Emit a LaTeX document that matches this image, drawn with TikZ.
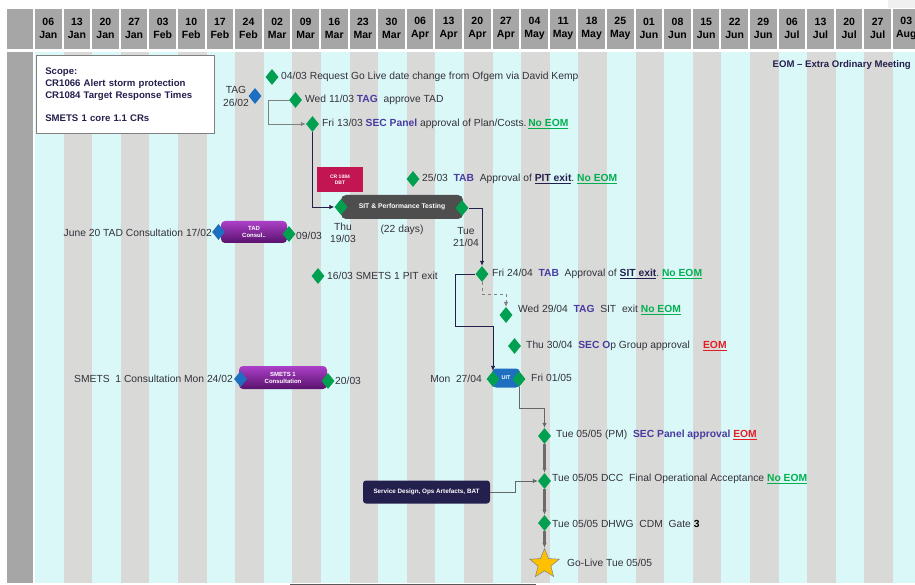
\documentclass[tikz,border=0pt]{standalone}
\usepackage{fontspec}
\setmainfont{Liberation Sans}
\usepackage{xcolor}
\usetikzlibrary{arrows.meta}
\usetikzlibrary{shapes.geometric}

\definecolor{colcyan}{RGB}{219,248,248}
\definecolor{colgrey}{RGB}{217,217,216}
\definecolor{hdrgrey}{RGB}{166,166,166}
\definecolor{msgreen}{RGB}{0,160,80}
\definecolor{tagblue}{RGB}{31,111,192}
\definecolor{navy}{RGB}{36,32,78}
\definecolor{indigo}{RGB}{72,60,160}
\definecolor{eomgreen}{RGB}{0,176,80}
\definecolor{eomred}{RGB}{226,30,36}
\definecolor{txtgrey}{RGB}{50,50,58}
\definecolor{crimson}{RGB}{194,22,82}
\definecolor{violettop}{RGB}{172,64,200}
\definecolor{violetbot}{RGB}{88,18,108}
\definecolor{sitgrey}{RGB}{78,78,78}
\definecolor{starfill}{RGB}{255,192,0}

\newcommand{\who}[1]{\textbf{\textcolor{indigo}{#1}}}
\newcommand{\gatelink}[1]{\textbf{\textcolor{navy}{\underline{#1}}}}
\newcommand{\msnoeom}{\textbf{\textcolor{eomgreen}{\underline{No EOM}}}}
\newcommand{\mseom}{\textbf{\textcolor{eomred}{\underline{EOM}}}}

\begin{document}
\begin{tikzpicture}[x=1pt, y=-1pt,
    >={Latex[width=4.5pt,length=5pt]},
    font=\fontsize{10.3}{12}\selectfont, text=txtgrey,
    hdr/.style = {align=center, text=black, inner sep=0pt,
                  font=\fontsize{10.5}{13}\selectfont\bfseries},
    ms/.style = {diamond, fill=msgreen, minimum width=13pt,
                 minimum height=16pt, inner sep=0pt},
    tagms/.style = {ms, fill=tagblue},
    lbl/.style = {anchor=west, inner sep=0pt},
    bar/.style = {rounded corners=4pt, text=white, align=center,
                  inner sep=0pt, font=\fontsize{6}{7}\selectfont\bfseries},
    purplebar/.style = {bar, top color=violettop, bottom color=violetbot},
    link/.style = {draw=navy, line width=0.9pt},
    greyline/.style = {draw=gray, line width=0.9pt},
    flow/.style = {draw=gray!85!black, line width=2.2pt}]

  \useasboundingbox (0,0) rectangle (915,585);
  \clip (0,0) rectangle (915,585);
  \fill[white] (0,0) rectangle (915,585);
  \fill[gray!12] (888,0) rectangle (915,8);

  % week grid
  \fill[hdrgrey] (7,9) rectangle (33,49);
  \fill[hdrgrey] (7,52) rectangle (33,583);
  \foreach \d/\m [count=\i from 0] in {06/Jan,13/Jan,20/Jan,27/Jan,03/Feb,
      10/Feb,17/Feb,24/Feb,02/Mar,09/Mar,16/Mar,23/Mar,30/Mar,06/Apr,13/Apr,
      20/Apr,27/Apr,04/May,11/May,18/May,25/May,01/Jun,08/Jun,15/Jun,22/Jun,
      29/Jun,06/Jul,13/Jul,20/Jul,27/Jul,03/Aug} {
    \pgfmathsetmacro\xl{35+28.6*\i}
    \ifodd\i \def\colfill{colgrey}\else \def\colfill{colcyan}\fi
    \fill[\colfill] (\xl,52) rectangle ++(28.6,531);
    \fill[hdrgrey] (\xl,9) rectangle ++(26.6,40);
    \node (hd\i) [hdr] at (\xl+13.3,28) {\d\\\m};
  }

  % scope and legend
  \node (scope) [draw=gray, fill=white, line width=0.6pt, anchor=north west,
                 minimum width=178pt, minimum height=78pt, text width=160pt,
                 inner xsep=9pt, align=left, text=navy,
                 font=\fontsize{9.6}{12}\selectfont\bfseries] at (36,55)
    {Scope:\\CR1066 Alert storm protection\\CR1084 Target Response Times\\[11pt]SMETS 1 core 1.1 CRs};
  \node (legend) [anchor=east, text=navy, inner sep=0pt,
                  font=\fontsize{9.6}{11}\selectfont\bfseries] at (911,65)
    {EOM -- Extra Ordinary Meeting};

  % milestones before testing
  \node (req) [ms] at (272,77) {};
  \node (reqlbl) [lbl] at (281,77) {04/03 Request Go Live date change from Ofgem via David Kemp};
  \node (tag) [tagms] at (255,96) {};
  \node (taglbl) [align=center, inner sep=0pt, font=\fontsize{10.3}{13}\selectfont] at (236,96) {TAG\\26/02};
  \node (wed) [ms] at (295.5,100) {};
  \node (wedlbl) [lbl] at (305,100) {Wed 11/03 \who{TAG}~ approve TAD};
  \node (fri) [ms] at (312.5,124) {};
  \node (frilbl) [lbl] at (322,124) {Fri 13/03 \who{SEC Panel} approval of Plan/Costs.\,\msnoeom};
  \coordinate (wedturn) at (268,100);
  \draw[greyline,->] (wed.west) -- (wedturn) |- (fri.west);

  % consultations
  \node (junelbl) [anchor=east, inner sep=0pt] at (212,233) {June 20 TAD Consultation 17/02};
  \node (tad) [purplebar, minimum width=66pt, minimum height=22pt] at (254,232) {TAD\\Consul..};
  \node (tadl) [tagms] at (218.5,232) {};
  \node (tadr) [ms] at (289,234) {};
  \node (tadrlbl) [lbl] at (296,236) {09/03};

  \node (smlbl) [anchor=east, inner sep=0pt] at (233,379) {SMETS~ 1 Consultation Mon 24/02};
  \node (smets) [purplebar, minimum width=88pt, minimum height=23pt] at (283,377.5) {SMETS 1\\Consultation};
  \node (smetsl) [tagms] at (240.5,379) {};
  \node (smetsr) [ms] at (328,381) {};
  \node (smetsrlbl) [lbl] at (335,381) {20/03};

  \node (pitsm) [ms] at (318,276) {};
  \node (pitsmlbl) [lbl] at (327,276) {16/03 SMETS 1 PIT exit};

  % SIT
  \node (dbt) [fill=crimson, text=white, align=center, inner sep=0pt,
               minimum width=46pt, minimum height=25pt,
               font=\fontsize{5}{6}\selectfont\bfseries] at (340,179.5) {CR 1084\\DBT};
  \node (sit) [bar, fill=sitgrey, rounded corners=5pt, minimum width=122pt,
               minimum height=24pt, font=\fontsize{6.8}{8}\selectfont\bfseries]
    at (402,207) {SIT \& Performance Testing};
  \node (sitl) [ms] at (341,207) {};
  \node (sitr) [ms] at (462,208) {};
  \node (sitllbl) [align=center, inner sep=0pt] at (343,233) {Thu\\19/03};
  \node (sitdays) [inner sep=0pt] at (402,230) {(22 days)};
  \node (sitrlbl) [align=center, inner sep=0pt] at (466,237) {Tue\\21/04};
  \draw[link,->] (fri.south) |- (sitl.west);

  \node (pit) [ms] at (413,179) {};
  \node (pitlbl) [lbl] at (422,179) {25/03~ \who{TAB}~ Approval of \gatelink{PIT exit}.\ \msnoeom};

  % exits and approvals
  \node (f24) [ms] at (482,274) {};
  \node (f24lbl) [lbl] at (492,274) {Fri 24/04~ \who{TAB}~ Approval of \gatelink{SIT exit}.\ \msnoeom};
  \draw[link,->] (sitr.east) -| (f24.north);

  \node (w29) [ms] at (506,315) {};
  \node (w29lbl) [lbl] at (518,310) {Wed 29/04~ \who{TAG}~ SIT~ exit \msnoeom};
  \coordinate (dashturn) at (482,294);
  \draw[greyline, line width=0.7pt, dashed, ->] (f24.south) -- (dashturn) -| (w29.north);

  \node (t30) [ms] at (514.5,346) {};
  \node (t30lbl) [lbl] at (526,346) {Thu 30/04~ \who{SEC O}p Group approval \quad\mseom};

  % UIT
  \node (uit) [bar, fill=tagblue, minimum width=28pt, minimum height=19pt,
               font=\fontsize{5.5}{6}\selectfont\bfseries] at (506,378) {UIT};
  \node (uitl) [ms] at (493,379) {};
  \node (uitr) [ms] at (519,379) {};
  \node (uitllbl) [anchor=east, inner sep=0pt] at (482,379) {Mon~ 27/04};
  \node (uitrlbl) [lbl] at (531,378) {Fri 01/05};
  \coordinate (loopa) at (455,326);
  \draw[link,->] (f24.west) -| (loopa) -| (uitl.north);

  % go-live chain
  \node (pm) [ms] at (544.5,436) {};
  \node (pmlbl) [lbl] at (556,435) {Tue 05/05 (PM)~ \who{SEC Panel approval} \mseom};
  \node (dcc) [ms] at (544.5,481) {};
  \node (dcclbl) [lbl] at (552,479) {Tue 05/05 DCC~ Final Operational Acceptance \msnoeom};
  \node (dhwg) [ms] at (544.5,523) {};
  \node (dhwglbl) [lbl] at (552,524) {Tue 05/05 DHWG~ CDM~ Gate \textbf{\textcolor{black}{3}}};
  \node (golive) [star, star points=5, star point ratio=2.3, fill=starfill,
                  draw=gray, line width=0.5pt, minimum size=31pt, inner sep=0pt] at (544.5,564) {};
  \node (golivelbl) [lbl] at (567,563) {Go-Live Tue 05/05};

  \coordinate (uitturn) at (519,408);
  \draw[greyline, draw=gray!80!black, ->] (uitr.south) -- (uitturn) -| (pm.north);
  \draw[flow,->] (pm) -- (dcc);
  \draw[flow,->] (dcc) -- (dhwg);
  \draw[flow,->] (dhwg) -- (golive);

  \node (svc) [bar, fill=navy, rounded corners=3pt, minimum width=127pt,
               minimum height=23pt, font=\fontsize{6.3}{7}\selectfont\bfseries]
    at (426.5,492) {Service Design, Ops Artefacts, BAT};
  \coordinate (svcturn) at (515,492);
  \draw[greyline, draw=gray!80!black, ->] (svc.east) -- (svcturn) |- (dcc.west);

  \draw[gray!70!black, line width=2pt] (290,585) -- (536,585);
\end{tikzpicture}
\end{document}
